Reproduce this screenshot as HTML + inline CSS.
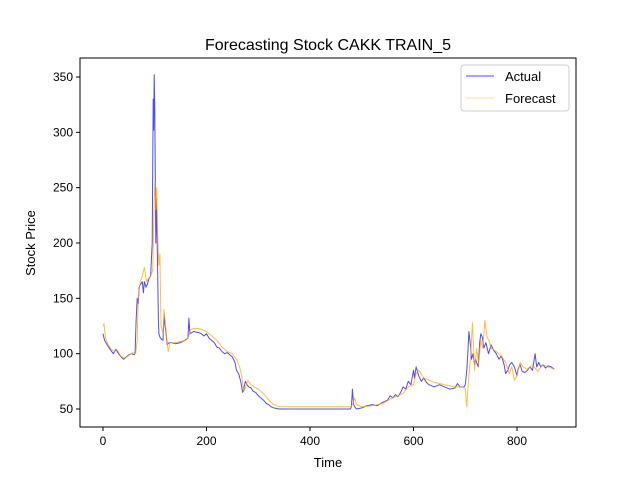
<!DOCTYPE html>
<html><head><meta charset="utf-8"><style>
body{margin:0;background:#fff}
svg text{font-family:"Liberation Sans","DejaVu Sans",sans-serif;fill:#000}
</style></head><body>
<svg id="chart" width="640" height="480" viewBox="0 0 640 480">
<rect width="640" height="480" fill="#fff"/>
<text x="328" y="50" font-size="16" text-anchor="middle">Forecasting Stock CAKK TRAIN_5</text>
<g id="series"></g>
<rect x="80" y="58" width="496" height="369" fill="none" stroke="#000" stroke-width="1"/>
<g id="axes"></g>
<text x="328" y="467" font-size="13" text-anchor="middle">Time</text>
<text transform="translate(35,243) rotate(-90)" font-size="13" text-anchor="middle">Stock Price</text>
<g>
<rect x="461" y="65" width="108" height="46" fill="#fff" stroke="#ccc" rx="3"/>
<line x1="466" y1="76" x2="494" y2="76" stroke="#0000ff" stroke-opacity="0.7"/>
<text x="505" y="81" font-size="13">Actual</text>
<line x1="466" y1="98" x2="494" y2="98" stroke="#ffa500" stroke-opacity="0.4"/>
<text x="505" y="103" font-size="13">Forecast</text>
</g>
</svg>
<script>
const xTicks=[0,200,400,600,800];
const yTicks=[50,100,150,200,250,300,350];
const actualT=[0,3,8,15,20,25,30,35,40,45,50,55,60,62,64,66,68,70,73,76,78,80,83,86,89,92,95,97,98,99,100,101,102,103,105,107,108,110,113,116,118,120,122,124,128,132,140,150,158,164,166,168,175,185,190,195,200,205,210,215,220,225,230,235,240,245,250,255,258,262,266,270,272,275,278,282,286,290,295,300,305,310,316,320,325,330,340,360,380,400,420,440,460,478,480,482,484,486,490,500,510,520,530,540,550,555,560,565,570,575,580,585,590,595,600,602,605,610,615,620,625,630,640,650,660,670,680,685,690,698,700,703,705,707,710,712,715,718,720,722,725,728,730,733,736,740,745,750,755,760,765,770,775,778,782,786,790,795,800,802,806,810,815,820,825,830,835,838,842,846,850,855,860,866,872];
const actualV=[118,112,108,103,100,104,100,97,95,97,99,100,99,101,130,150,145,160,163,165,155,165,160,163,168,170,200,330,302,352,320,260,200,240,195,130,118,115,113,112,135,125,118,108,110,110,109,110,112,114,132,118,120,119,118,116,118,114,112,110,106,105,102,100,101,99,97,92,85,82,75,65,68,75,72,70,69,66,65,62,60,58,55,54,52,51,50,50,50,50,50,50,50,50,52,68,55,52,50,51,53,54,53,56,58,62,60,63,61,65,70,68,75,72,85,78,88,80,75,78,74,72,70,72,70,68,69,73,70,70,72,85,100,120,108,95,100,90,95,92,88,110,118,115,105,110,100,108,103,100,95,98,90,82,85,90,92,88,80,86,90,84,83,85,88,85,100,88,92,88,90,87,89,88,86];
const forecastT=[0,2,5,10,16,22,28,34,40,46,52,58,63,66,68,72,76,80,84,88,92,96,99,100,102,104,106,108,110,112,116,118,120,123,126,130,140,150,160,166,170,180,190,200,210,220,230,240,250,258,264,268,272,276,280,286,292,300,310,320,330,340,360,400,440,480,483,486,490,500,520,540,560,580,590,600,605,610,620,640,660,680,695,700,703,706,710,714,718,722,726,730,734,738,742,746,750,760,770,778,785,790,795,800,806,812,820,830,840,850,860,872];
const forecastV=[125,127,114,108,104,102,103,98,96,97,99,101,100,112,150,165,170,178,165,168,170,175,240,255,230,250,200,180,190,125,118,140,130,115,102,110,110,111,112,116,122,123,122,120,116,112,106,102,100,95,88,80,66,70,76,72,70,68,64,58,54,52,52,52,52,52,55,60,54,52,53,55,60,64,70,72,82,85,78,74,72,70,70,68,52,75,95,128,85,105,90,112,105,130,115,112,105,102,98,92,82,88,76,80,92,88,86,90,84,90,88,86];
const X0=80,X1=576,Y0=58,Y1=427;
function xs(v){return 103+v*(414/800);}
function ys(v){return 409-(v-50)*(332/300);}
const NS="http://www.w3.org/2000/svg";
const ax=document.getElementById('axes');
xTicks.forEach(t=>{
 const l=document.createElementNS(NS,'line');
 l.setAttribute('x1',xs(t));l.setAttribute('x2',xs(t));l.setAttribute('y1',Y1);l.setAttribute('y2',Y1+4);l.setAttribute('stroke','#000');
 
 
 ax.appendChild(l);
 const tx=document.createElementNS(NS,'text');
 tx.setAttribute('x',xs(t));tx.setAttribute('y',Y1+18);tx.setAttribute('font-size','12');tx.setAttribute('text-anchor','middle');tx.textContent=t;
 
 
 ax.appendChild(tx);
});
yTicks.forEach(t=>{
 const l=document.createElementNS(NS,'line');
 l.setAttribute('x1',X0-4);l.setAttribute('x2',X0);l.setAttribute('y1',ys(t));l.setAttribute('y2',ys(t));l.setAttribute('stroke','#000');
 
 
 ax.appendChild(l);
 const tx=document.createElementNS(NS,'text');
 tx.setAttribute('x',X0-7);tx.setAttribute('y',ys(t)+4);tx.setAttribute('font-size','12');tx.setAttribute('text-anchor','end');tx.textContent=t;
 
 
 ax.appendChild(tx);
});
const sg=document.getElementById('series');
function line(T,V,color,op,name){
 const p=document.createElementNS(NS,'polyline');
 p.setAttribute('points',T.map((t,i)=>xs(t).toFixed(1)+','+ys(V[i]).toFixed(1)).join(' '));
 p.setAttribute('fill','none');p.setAttribute('stroke',color);p.setAttribute('stroke-opacity',op);p.setAttribute('stroke-width','1');p.setAttribute('stroke-linejoin','round');
 
 
 sg.appendChild(p);
}
line(actualT,actualV,'#0000ff','0.7','actual-line');
line(forecastT,forecastV,'#ffa500','0.75','forecast-line');
</script>
</body></html>
